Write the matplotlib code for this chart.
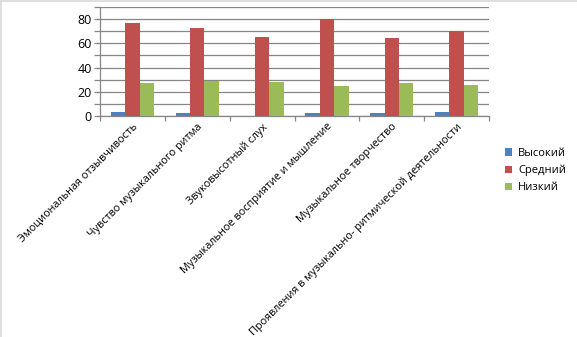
import matplotlib.pyplot as plt
import numpy as np
from matplotlib.lines import Line2D

categories = [
    "Эмоциональная отзывчивость",
    "Чувство музыкального ритма",
    "Звуковысотный слух",
    "Музыкальное восприятие и мышление",
    "Музыкальное творчество",
    "Проявления в музыкально- ритмической деятельности",
]
series_names = ["Высокий", "Средний", "Низкий"]
high = [3, 2, 0, 2, 2, 3]
medium = [77, 73, 65, 80, 64.5, 70]
low = [27, 29, 28, 24.5, 27, 25.5]
colors = ["#4F81BD", "#C0504D", "#9BBB59"]

plt.rcParams['font.family'] = ['Open Sans', 'DejaVu Sans']

fig = plt.figure(figsize=(5.77, 3.37), dpi=100)
ax = fig.add_axes([0.1733, 0.657, 0.6742, 0.321])

x = np.arange(len(categories))
w = 0.222
for i, (vals, name) in enumerate(zip([high, medium, low], series_names)):
    ax.bar(x + (i - 1) * w, vals, width=w, color=colors[i], label=name, zorder=3)

ax.set_xlim(-0.5, len(categories) - 0.5)
ax.set_ylim(0, 90)
ax.set_yticks(np.arange(0, 91, 10))
ax.set_yticklabels([str(v) if v % 20 == 0 and v < 90 else "" for v in range(0, 91, 10)], fontsize=9)
ax.yaxis.grid(True, color="#868686", linewidth=0.9, zorder=0)

# x ticks between categories, labels at category centres
ax.set_xticks(np.arange(-0.5, len(categories), 1))
ax.set_xticklabels([])
ax.set_xticks(x, minor=True)
ax.set_xticklabels(categories, minor=True, rotation=45, ha="right", va="top",
                   rotation_mode="anchor", fontsize=7.8)
ax.tick_params(axis="x", which="minor", length=0, pad=4)
ax.tick_params(axis="x", which="major", length=3.5, color="#868686", width=0.9)
ax.tick_params(axis="y", length=4, color="#868686", width=0.9, pad=2)

for s in ["top", "right"]:
    ax.spines[s].set_visible(False)
for s in ["left", "bottom"]:
    ax.spines[s].set_color("#868686")
    ax.spines[s].set_linewidth(0.9)

fig.legend(loc="upper left", bbox_to_anchor=(0.867, 0.575), frameon=False,
           fontsize=8, handlelength=0.7, handleheight=0.7, handletextpad=0.5,
           labelspacing=0.55, borderaxespad=0)

# light chart-area border
fig.add_artist(Line2D([0, 1], [0.997, 0.997], color="#d9d9d9", linewidth=1.2))
fig.add_artist(Line2D([0.002, 0.002], [0, 1], color="#d9d9d9", linewidth=1.2))

fig.savefig("out.png", dpi=100)
